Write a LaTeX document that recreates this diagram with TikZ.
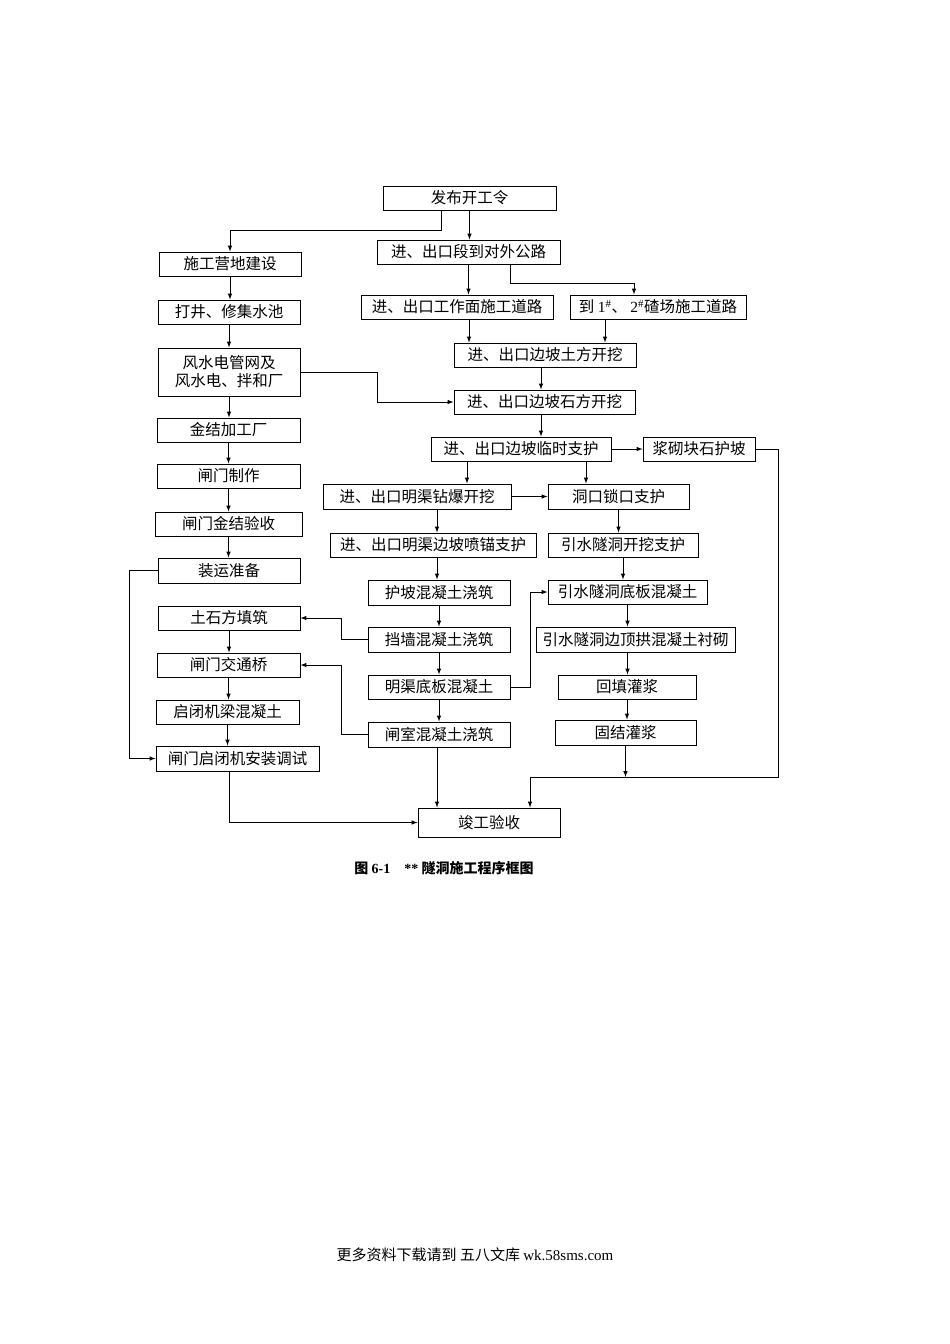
\documentclass[tikz,border=0pt]{standalone}
\usepackage{fontspec}
\setmainfont{Liberation Serif}
\newfontfamily\cjk{Noto Sans CJK SC}
\usetikzlibrary{arrows,positioning}

\begin{document}
\begin{tikzpicture}[x=1pt, y=-1pt, thick]
    % Styles
    \tikzstyle{stage} = [rectangle, draw, line width=1pt, inner sep=0pt, minimum height=24pt, font=\cjk\fontsize{15.5}{18}\selectfont, align=center]
    \tikzstyle{arrow} = [-latex, line width=1pt]
    \tikzstyle{link} = [line width=1pt]

    \useasboundingbox (0,0) rectangle (950,1344);

    % Left column
    \node [stage, minimum width=173pt] (start) at (469.5,198) {发布开工令};
    \node [stage, minimum width=142pt] (camp) at (230,264) {施工营地建设};
    \node [stage, minimum width=142pt] (well) at (229,312) {打井、修集水池};
    \node [stage, minimum width=142pt, minimum height=48pt] (wind) at (229,372) {风水电管网及\\风水电、拌和厂};
    \node [stage, minimum width=143pt] (metal) at (228.5,430) {金结加工厂};
    \node [stage, minimum width=143pt] (gate) at (228.5,476) {闸门制作};
    \node [stage, minimum width=147pt] (check) at (228.5,524) {闸门金结验收};
    \node [stage, minimum width=142pt, minimum height=25pt] (ship) at (229,570.5) {装运准备};
    \node [stage, minimum width=142pt] (fill) at (229,618) {土石方填筑};
    \node [stage, minimum width=143pt] (bridge) at (228.5,665) {闸门交通桥};
    \node [stage, minimum width=143pt] (hoist) at (227.5,712) {启闭机梁混凝土};
    \node [stage, minimum width=163pt, minimum height=25pt] (install) at (237.5,758.5) {闸门启闭机安装调试};

    % Middle and right columns
    \node [stage, minimum width=183pt] (road) at (468.5,252) {进、出口段到对外公路};
    \node [stage, minimum width=192pt] (wroad) at (457,307) {进、出口工作面施工道路};
    \node [stage, minimum width=176pt] (sroad) at (658,307) {到 {\rmfamily 1}$^{\#}$、 {\rmfamily 2}$^{\#}$碴场施工道路};
    \node [stage, minimum width=182pt] (soil) at (545,355) {进、出口边坡土方开挖};
    \node [stage, minimum width=181pt] (rock) at (544.5,402) {进、出口边坡石方开挖};
    \node [stage, minimum width=180pt] (temp) at (521,449) {进、出口边坡临时支护};
    \node [stage, minimum width=112pt] (slope) at (699,449) {浆砌块石护坡};
    \node [stage, minimum width=188pt, minimum height=25pt] (blast) at (417,496.5) {进、出口明渠钻爆开挖};
    \node [stage, minimum width=141pt, minimum height=25pt] (portal) at (618.5,496.5) {洞口锁口支护};
    \node [stage, minimum width=206pt] (anchor) at (433,545) {进、出口明渠边坡喷锚支护};
    \node [stage, minimum width=150pt] (dig) at (623,545) {引水隧洞开挖支护};
    \node [stage, minimum width=142pt, minimum height=25pt] (guard) at (439,592.5) {护坡混凝土浇筑};
    \node [stage, minimum width=159pt] (floor) at (627.5,592) {引水隧洞底板混凝土};
    \node [stage, minimum width=142pt, minimum height=25pt] (wall) at (439,639.5) {挡墙混凝土浇筑};
    \node [stage, minimum width=199pt, minimum height=25pt] (arch) at (635.5,639.5) {引水隧洞边顶拱混凝土衬砌};
    \node [stage, minimum width=142pt] (bed) at (439,687) {明渠底板混凝土};
    \node [stage, minimum width=138pt] (back) at (627,687) {回填灌浆};
    \node [stage, minimum width=142pt, minimum height=25pt] (room) at (439,734.5) {闸室混凝土浇筑};
    \node [stage, minimum width=141pt, minimum height=25pt] (grout) at (625.5,732.5) {固结灌浆};
    \node [stage, minimum width=142pt, minimum height=29pt] (done) at (489,822.5) {竣工验收};
    \coordinate (join) at (625,777);

    % Connections
    \draw [arrow] ([xshift=-28.5pt]start.south) -- ++(0,20) -| (camp.north);
    \draw [arrow] (start.south) -- (start.south |- road.north);
    \draw [arrow] (road.south) -- (road.south |- wroad.north);
    \draw [arrow] ([xshift=41.5pt]road.south) -- ++(0,19) -| ([xshift=-24pt]sroad.north);
    \draw [arrow] (camp.south) -- (camp.south |- well.north);
    \draw [arrow] (well.south) -- (well.south |- wind.north);
    \draw [arrow] (wind.south) -- (wind.south |- metal.north);
    \draw [arrow] (metal.south) -- (metal.south |- gate.north);
    \draw [arrow] (gate.south) -- (gate.south |- check.north);
    \draw [arrow] (check.south) -- (check.south |- ship.north);
    \draw [arrow] (wind.east) -- ++(77,0) |- (rock.west);
    \draw [arrow] ([xshift=12pt]wroad.south) -- ([xshift=12pt]wroad.south |- soil.north);
    \draw [arrow] ([xshift=-53pt]sroad.south) -- ([xshift=-53pt]sroad.south |- soil.north);
    \draw [arrow] ([xshift=-4pt]soil.south) -- ([xshift=-4pt]soil.south |- rock.north);
    \draw [arrow] ([xshift=-3.5pt]rock.south) -- ([xshift=-3.5pt]rock.south |- temp.north);
    \draw [arrow] (temp.east) -- (slope.west);
    \draw [arrow] (slope.east) -- ++(23,0) -- ++(0,328) -| ([xshift=41pt]done.north);
    \draw [arrow] ([xshift=-54pt]temp.south) -- ([xshift=-54pt]temp.south |- blast.north);
    \draw [arrow] ([xshift=65pt]temp.south) -- ([xshift=65pt]temp.south |- portal.north);
    \draw [arrow] (blast.east) -- (portal.west);
    \draw [arrow] ([xshift=20pt]blast.south) -- ([xshift=20pt]blast.south |- anchor.north);
    \draw [arrow] ([xshift=4pt]anchor.south) -- ([xshift=4pt]anchor.south |- guard.north);
    \draw [arrow] (guard.south) -- (guard.south |- wall.north);
    \draw [arrow] (wall.south) -- (wall.south |- bed.north);
    \draw [arrow] (bed.south) -- (bed.south |- room.north);
    \draw [arrow] ([xshift=-2pt]room.south) -- ([xshift=-2pt]room.south |- done.north);
    \draw [arrow] (portal.south) -- (portal.south |- dig.north);
    \draw [arrow] (dig.south) -- (dig.south |- floor.north);
    \draw [arrow] (floor.south) -- (floor.south |- arch.north);
    \draw [arrow] ([xshift=-8pt]arch.south) -- ([xshift=-8pt]arch.south |- back.north);
    \draw [arrow] (back.south) -- (back.south |- grout.north);
    \draw [arrow] (grout.south) -- (grout.south |- join);
    \draw [arrow] (bed.east) -- ++(20,0) |- (floor.west);
    \draw [arrow] (wall.west) -- ++(-26,0) |- (fill.east);
    \draw [arrow] (room.west) -- ++(-26,0) |- (bridge.east);
    \draw [arrow] (ship.west) -- ++(-28,0) |- (install.west);
    \draw [arrow] (fill.south) -- (fill.south |- bridge.north);
    \draw [arrow] (bridge.south) -- (bridge.south |- hoist.north);
    \draw [arrow] (hoist.south) -- (hoist.south |- install.north);
    \draw [arrow] ([xshift=-8.5pt]install.south) |- (done.west);

    % Caption and footer
    \node [font=\cjk\bfseries\fontsize{14}{16}\selectfont] (caption) at (444,868) {图 {\rmfamily\bfseries 6-1}\quad {\rmfamily\bfseries **} 隧洞施工程序框图};
    \node [font=\cjk\fontsize{15}{17}\selectfont] (footer) at (475,1255) {更多资料下载请到 五八文库 {\rmfamily wk.58sms.com}};
\end{tikzpicture}
\end{document}
